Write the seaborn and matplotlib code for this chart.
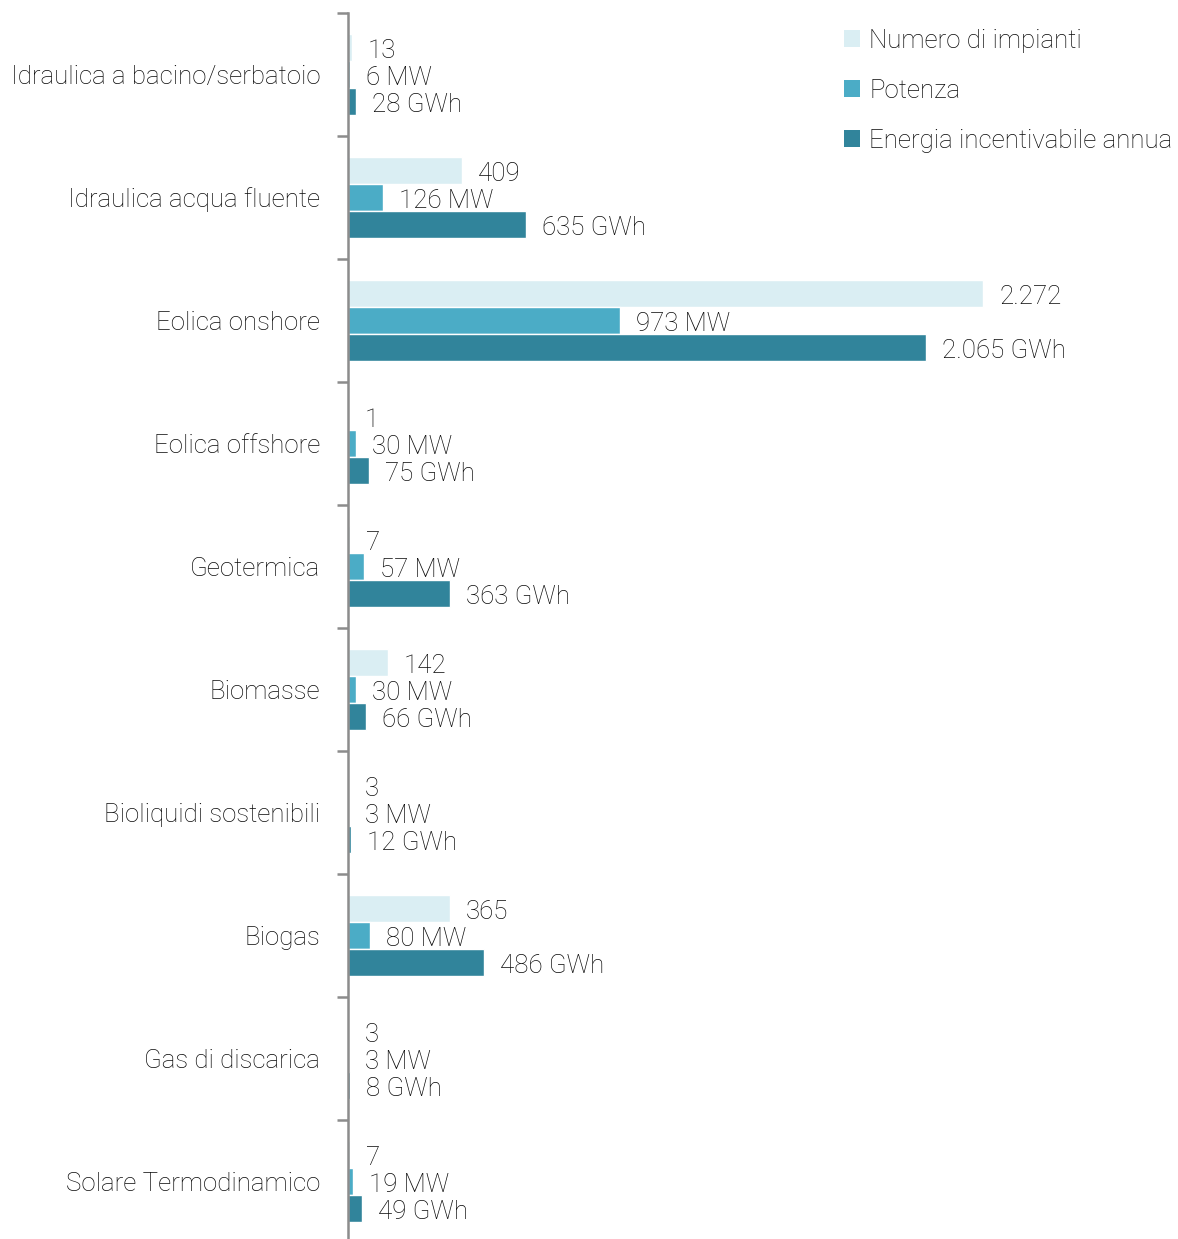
import matplotlib
matplotlib.use("Agg")
import matplotlib.pyplot as plt
from matplotlib.patches import Patch
from matplotlib.ticker import FixedLocator
import seaborn as sns
import pandas as pd

# Plant categories (top to bottom)
categorie = [
    "Idraulica a bacino/serbatoio",
    "Idraulica acqua fluente",
    "Eolica onshore",
    "Eolica offshore",
    "Geotermica",
    "Biomasse",
    "Bioliquidi sostenibili",
    "Biogas",
    "Gas di discarica",
    "Solare Termodinamico",
]
serie = ["Numero di impianti", "Potenza", "Energia incentivabile annua"]
numero_impianti = [13, 409, 2272, 1, 7, 142, 3, 365, 3, 7]
potenza_mw = [6, 126, 973, 30, 57, 30, 3, 80, 3, 19]
energia_gwh = [28, 635, 2065, 75, 363, 66, 12, 486, 8, 49]
unita = ["", " MW", " GWh"]
colori = ["#daeef3", "#4bacc6", "#31849b"]

valori = [numero_impianti, potenza_mw, energia_gwh]
df = pd.DataFrame(
    [(c, s, v[i]) for s, v in zip(serie, valori) for i, c in enumerate(categorie)],
    columns=["categoria", "serie", "valore"],
)

sns.set_theme(style="white")
plt.rcParams["font.family"] = ["Roboto", "DejaVu Sans"]
plt.rcParams["font.weight"] = "light"
testo = "#0a0a0a"
fs = 18.6

fig = plt.figure(figsize=(11.78, 12.39), dpi=100)
ax = fig.add_axes([348 / 1178, 1 - 1243 / 1239, 1 - 348 / 1178, 1230 / 1239])

sns.barplot(
    data=df, y="categoria", x="valore", hue="serie", orient="h",
    palette=colori, width=0.66, gap=0, saturation=1, ax=ax, legend=False,
    errorbar=None,
)

ax.set_xlim(0, 830 / 0.2797)
ax.set_ylim(9.5, -0.5)


def fmt(v):
    return f"{v:,}".replace(",", ".")


for cont, u in zip(ax.containers, unita):
    etichette = [fmt(int(round(b.get_width()))) + u for b in cont]
    anns = ax.bar_label(cont, labels=etichette, padding=11.5, fontsize=fs,
                        color=testo, fontweight="light")
    for a in anns:
        a.xyann = (a.xyann[0], -2.5)

for lato in ["top", "right", "bottom"]:
    ax.spines[lato].set_visible(False)
ax.spines["left"].set_color("#8c8c8c")
ax.spines["left"].set_linewidth(1.8)

ax.set_xticks([])
ax.set_xlabel("")
ax.set_ylabel("")
ax.tick_params(axis="y", which="major", length=0, pad=20, labelsize=fs,
               labelcolor=testo)
ax.yaxis.set_minor_locator(FixedLocator([i - 0.5 for i in range(len(categorie) + 1)]))
ax.tick_params(axis="y", which="minor", length=8, width=1.8, color="#8c8c8c", left=True)
for t in ax.get_yticklabels():
    t.set_fontweight("light")

maniglie = [Patch(facecolor=c, edgecolor="none") for c in colori]
fig.legend(
    maniglie, serie, loc="upper left", bbox_to_anchor=(844 / 1178, 1 - 29 / 1239),
    frameon=False, fontsize=fs, handlelength=0.63, handleheight=0.63,
    handletextpad=0.35, labelspacing=1.0, borderaxespad=0, borderpad=0,
    labelcolor=testo,
)

fig.savefig("out.png", dpi=100, facecolor="white")
